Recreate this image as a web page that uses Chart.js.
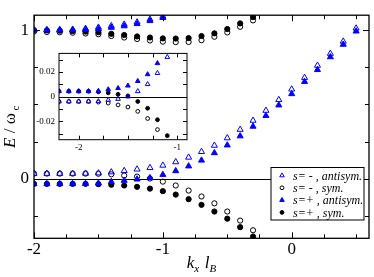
<!DOCTYPE html>
<html>
<head>
<meta charset="utf-8">
<script src="https://cdn.jsdelivr.net/npm/chart.js@4.4.0/dist/chart.umd.min.js"></script>
<style>
  html, body { margin: 0; padding: 0; background: #fff; }
  #wrap { position: relative; width: 374px; height: 277px; }
  #mainChart { position: absolute; left: 0; top: 0; }
  #insetChart { position: absolute; left: 30px; top: 44px; }
</style>
</head>
<body>
<div id="wrap">
  <canvas id="mainChart" width="374" height="277"></canvas>
  <canvas id="insetChart" width="162" height="112"></canvas>
</div>
<script>
// Main panel data (k_x l_B vs E / omega_c), lower and upper branches
const mainK = [-2.0, -1.9, -1.8, -1.7, -1.6, -1.5, -1.4, -1.3, -1.2, -1.1, -1.0, -0.9, -0.8,
               -0.7, -0.6, -0.5, -0.4, -0.3, -0.2, -0.1, 0.0, 0.1, 0.2, 0.3, 0.4, 0.5];

const antiMinusLow  = [0.035, 0.035, 0.035, 0.035, 0.036, 0.038, 0.045, 0.054, 0.064, 0.074, 0.090, 0.113, 0.144,
                       0.182, 0.224, 0.274, 0.331, 0.392, 0.459, 0.531, 0.602, 0.680, 0.762, 0.842, 0.924, 1.012];
const antiMinusHigh = [1.000, 1.000, 1.002, 1.004, 1.010, 1.018, 1.028, 1.038, 1.053, 1.072, 1.092, null, null,
                       null, null, null, null, null, null, null, null, null, null, null, null, null];
const symMinusLow   = [0.035, 0.035, 0.035, 0.035, 0.035, 0.034, 0.030, 0.022, 0.015, 0.002, -0.019, -0.045, -0.079,
                       -0.119, -0.165, -0.220, -0.281, -0.346, null, null, null, null, null, null, null, null];
const symMinusHigh  = [0.990, 0.987, 0.985, 0.982, 0.977, 0.972, 0.960, 0.950, 0.940, 0.930, 0.922, 0.919, 0.920,
                       0.932, 0.955, 0.984, 1.022, 1.065, null, null, null, null, null, null, null, null];
const antiPlusLow   = [-0.034, -0.034, -0.034, -0.034, -0.033, -0.030, -0.020, -0.012, -0.003, 0.006, 0.028, 0.053, 0.085,
                       0.124, 0.174, 0.226, 0.287, 0.352, 0.424, 0.495, 0.571, 0.653, 0.733, 0.819, 0.903, 0.992];
const antiPlusHigh  = [1.000, 1.000, 1.000, 1.000, 1.003, 1.008, 1.017, 1.027, 1.042, 1.062, 1.083, null, null,
                       null, null, null, null, null, null, null, null, null, null, null, null, null];
const symPlusLow    = [-0.034, -0.034, -0.034, -0.034, -0.034, -0.036, -0.040, -0.045, -0.054, -0.066, -0.083, -0.106, -0.137,
                       -0.175, -0.220, -0.268, -0.325, -0.388, null, null, null, null, null, null, null, null];
const symPlusHigh   = [1.000, 0.998, 0.996, 0.993, 0.990, 0.985, 0.975, 0.967, 0.957, 0.950, 0.944, 0.943, 0.946,
                       0.960, 0.978, 1.007, 1.045, 1.087, null, null, null, null, null, null, null, null];

// Inset data (zoom around E = 0)
const insetK         = [-2.2, -2.1, -2.0, -1.9, -1.8, -1.7, -1.6, -1.5, -1.4, -1.3, -1.2, -1.1];
const insetAntiMinus = [-0.004, -0.004, -0.004, -0.004, -0.0038, -0.0028, -0.002, 0.0, 0.0043, 0.010, 0.019, 0.032];
const insetSymMinus  = [-0.004, -0.004, -0.004, -0.004, -0.0045, -0.0053, -0.0068, -0.0085, -0.012, -0.0178, -0.0268, null];
const insetAntiPlus  = [0.0043, 0.0043, 0.0043, 0.0043, 0.0045, 0.0058, 0.0068, 0.0088, 0.0125, 0.018, 0.027, null];
const insetSymPlus   = [0.0043, 0.0043, 0.0043, 0.0043, 0.0038, 0.003, 0.0018, 0.0005, -0.004, -0.0095, -0.0188, -0.0317];

// Tick positions
const mainXTicks  = [-2, -1.75, -1.5, -1.25, -1, -0.75, -0.5, -0.25, 0, 0.25, 0.5];
const mainYTicks  = [-0.25, 0, 0.25, 0.5, 0.75, 1];
const insetXTicks = [-2, -1.75, -1.5, -1.25, -1];
const insetYTicks = [-0.03, -0.02, -0.01, 0, 0.01, 0.02, 0.03];

const legendLabels = ['s= - , antisym.', 's= - , sym.', 's=+ , antisym.', 's=+ , sym.'];

const SERIF = "'Liberation Serif', 'DejaVu Serif', serif";
const BLUE = 'rgb(0,0,255)';

function pts(xs, ys) {
    return xs.map((x, i) => ({ x: x, y: ys[i] })).filter(p => p.y !== null);
}

function isMultiple(v, step) {
    return Math.abs(v / step - Math.round(v / step)) < 1e-6;
}

// symbol styles, same order as the legend
function styles(triR, circR) {
    return [
        { pointStyle: 'triangle', pointRadius: triR, pointBackgroundColor: 'rgba(0,0,0,0)', pointBorderColor: BLUE, pointBorderWidth: 1 },
        { pointStyle: 'circle', pointRadius: circR, pointBackgroundColor: 'rgba(0,0,0,0)', pointBorderColor: '#000', pointBorderWidth: 1 },
        { pointStyle: 'triangle', pointRadius: triR, pointBackgroundColor: BLUE, pointBorderColor: BLUE, pointBorderWidth: 1 },
        { pointStyle: 'circle', pointRadius: circR, pointBackgroundColor: '#000', pointBorderColor: '#000', pointBorderWidth: 1 }
    ];
}

// Inward ticks on all four sides plus the box frame and the E = 0 line
const frameTicks = {
    id: 'frameTicks',
    beforeDatasetsDraw(chart, args, opts) {
        const ctx = chart.ctx, a = chart.chartArea;
        const py = Math.round(chart.scales.y.getPixelForValue(0)) + 0.5;
        ctx.save();
        ctx.strokeStyle = '#000';
        ctx.lineWidth = 1;
        ctx.beginPath();
        ctx.moveTo(a.left, py);
        ctx.lineTo(a.right, py);
        ctx.stroke();
        ctx.restore();
    },
    afterDraw(chart, args, opts) {
        const ctx = chart.ctx, a = chart.chartArea;
        const xs = chart.scales.x, ys = chart.scales.y;
        ctx.save();
        ctx.strokeStyle = '#000';
        ctx.lineWidth = 1;
        ctx.beginPath();
        xs.ticks.forEach(t => {
            const len = isMultiple(t.value, opts.xMajor) ? opts.major : opts.minor;
            const px = Math.round(xs.getPixelForValue(t.value)) + 0.5;
            ctx.moveTo(px, a.bottom); ctx.lineTo(px, a.bottom - len);
            ctx.moveTo(px, a.top); ctx.lineTo(px, a.top + len);
        });
        ys.ticks.forEach(t => {
            const len = isMultiple(t.value, opts.yMajor) ? opts.major : opts.minor;
            const py = Math.round(ys.getPixelForValue(t.value)) + 0.5;
            ctx.moveTo(a.left, py); ctx.lineTo(a.left + len, py);
            ctx.moveTo(a.right, py); ctx.lineTo(a.right - len, py);
        });
        ctx.stroke();
        ctx.lineWidth = opts.frameWidth;
        ctx.strokeRect(a.left, a.top, a.right - a.left, a.bottom - a.top);
        ctx.restore();
    }
};

// text made of pieces (italics, subscripts)
function drawRich(ctx, parts, cx, y) {
    let w = 0;
    parts.forEach(p => { ctx.font = p.font; w += ctx.measureText(p.t).width; });
    let x = cx - w / 2;
    parts.forEach(p => {
        ctx.font = p.font;
        ctx.fillText(p.t, x, y + (p.dy || 0));
        x += ctx.measureText(p.t).width;
    });
}

const axisTitles = {
    id: 'axisTitles',
    afterDraw(chart) {
        const ctx = chart.ctx, a = chart.chartArea;
        ctx.save();
        ctx.fillStyle = '#000';
        ctx.textBaseline = 'alphabetic';
        // x title: k_x l_B
        drawRich(ctx, [
            { t: 'k', font: 'italic 17px ' + SERIF },
            { t: 'x', font: 'italic 11px ' + SERIF, dy: 4 },
            { t: '  ', font: '11px ' + SERIF },
            { t: 'l', font: 'italic 17px ' + SERIF },
            { t: 'B', font: 'italic 11px ' + SERIF, dy: 4 }
        ], (a.left + a.right) / 2, 268);
        // y title: E / omega_c
        ctx.translate(15, (a.top + a.bottom) / 2);
        ctx.rotate(-Math.PI / 2);
        drawRich(ctx, [
            { t: 'E', font: 'italic 17px ' + SERIF },
            { t: ' / ', font: '17px ' + SERIF },
            { t: 'ω', font: '17px ' + SERIF },
            { t: ' c', font: '11px ' + SERIF, dy: 4 }
        ], 0, 0);
        ctx.restore();
    }
};

// legend box inside the plot, bottom right
const boxLegend = {
    id: 'boxLegend',
    afterDraw(chart) {
        const ctx = chart.ctx;
        const box = { x: 271, y: 167.5, w: 93, h: 52.5 };
        const sty = styles(2.6, 1.9);
        ctx.save();
        ctx.fillStyle = '#fff';
        ctx.fillRect(box.x, box.y, box.w, box.h);
        ctx.strokeStyle = '#000';
        ctx.lineWidth = 1;
        ctx.strokeRect(box.x, box.y, box.w, box.h);
        ctx.textBaseline = 'middle';
        legendLabels.forEach((txt, i) => {
            const cy = box.y + 8 + i * 12.3;
            const s = sty[i];
            ctx.fillStyle = s.pointBackgroundColor;
            ctx.strokeStyle = s.pointBorderColor;
            ctx.lineWidth = 1;
            Chart.helpers.drawPoint(ctx, { pointStyle: s.pointStyle, radius: s.pointRadius, rotation: 0, borderWidth: 1 }, box.x + 11, cy);
            ctx.fillStyle = '#000';
            ctx.font = 'italic 12px ' + SERIF;
            ctx.fillText(txt, box.x + 22, cy + 1);
        });
        ctx.restore();
    }
};

function scatterSets(series, sty) {
    return series.map((data, i) => Object.assign({ label: legendLabels[i], data: data, showLine: false }, sty[i]));
}

function axisOpts(min, max, tickVals, majorStep, fontSize, pad, fit, fmt) {
    return {
        type: 'linear', min: min, max: max,
        afterBuildTicks: s => { s.ticks = tickVals.map(v => ({ value: v })); },
        afterFit: fit,
        grid: { display: false, drawTicks: false },
        border: { display: false },
        ticks: {
            autoSkip: false, maxRotation: 0, padding: pad, color: '#000',
            font: { family: SERIF, size: fontSize },
            callback: v => isMultiple(v, majorStep) ? fmt(v) : ''
        }
    };
}

// main chart; triangles first so they are drawn over the circles
const mainStyles = styles(3.5, 2.6);
const mainSeries = [
    pts(mainK, antiMinusLow).concat(pts(mainK, antiMinusHigh)),
    pts(mainK, symMinusLow).concat(pts(mainK, symMinusHigh)),
    pts(mainK, antiPlusLow).concat(pts(mainK, antiPlusHigh)),
    pts(mainK, symPlusLow).concat(pts(mainK, symPlusHigh))
];
const order = [0, 2, 1, 3];

new Chart(document.getElementById('mainChart'), {
    type: 'scatter',
    data: { datasets: order.map(i => scatterSets(mainSeries, mainStyles)[i]) },
    options: {
        responsive: false,
        animation: false,
        events: [],
        layout: { padding: { left: 0, right: 1.3, top: 2.7, bottom: 0 } },
        plugins: {
            legend: { display: false },
            tooltip: { enabled: false },
            frameTicks: { xMajor: 1, yMajor: 1, major: 6, minor: 4, frameWidth: 1.3 }
        },
        scales: {
            x: axisOpts(-2, 0.6, mainXTicks, 1, 17, 1, s => { s.height = 38.7; }, v => String(v)),
            y: axisOpts(-0.4, 1.1, mainYTicks, 1, 17, 5, s => { s.width = 34; }, v => String(v))
        }
    },
    plugins: [frameTicks, axisTitles, boxLegend]
});

// inset chart
const insetStyles = styles(2.7, 1.9);
const insetSeries = [
    pts(insetK, insetAntiMinus),
    pts(insetK, insetSymMinus),
    pts(insetK, insetAntiPlus),
    pts(insetK, insetSymPlus)
];

new Chart(document.getElementById('insetChart'), {
    type: 'scatter',
    data: { datasets: order.map(i => scatterSets(insetSeries, insetStyles)[i]) },
    options: {
        responsive: false,
        animation: false,
        events: [],
        layout: { padding: { left: 0, right: 4.7, top: 2, bottom: 0 } },
        plugins: {
            legend: { display: false },
            tooltip: { enabled: false },
            frameTicks: { xMajor: 1, yMajor: 0.02, major: 4, minor: 4, frameWidth: 1 }
        },
        scales: {
            x: axisOpts(-2.2, -0.9, insetXTicks, 1, 9, 3, s => { s.height = 16.3; }, v => String(v)),
            y: axisOpts(-0.035, 0.035, insetYTicks, 0.02, 9, 4, s => { s.width = 29; },
                        v => (Math.abs(v) < 1e-9 ? '0' : v.toFixed(2)))
        }
    },
    plugins: [frameTicks]
});
</script>
</body>
</html>
